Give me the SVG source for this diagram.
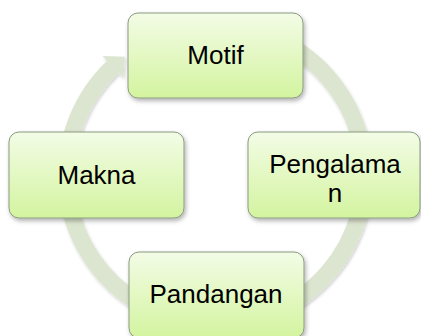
<svg xmlns="http://www.w3.org/2000/svg" width="421" height="336" viewBox="0 0 421 336">
<defs>
<linearGradient id="boxFill" x1="0" y1="0" x2="0" y2="1">
<stop offset="0" stop-color="#f3fce6"/>
<stop offset="1" stop-color="#d3f49f"/>
</linearGradient>
<filter id="sh" x="-20%" y="-20%" width="140%" height="140%">
<feDropShadow dx="1.5" dy="2.5" stdDeviation="2" flood-color="#000" flood-opacity="0.3"/>
</filter>
<filter id="shr" x="-20%" y="-20%" width="140%" height="140%">
<feDropShadow dx="1" dy="2" stdDeviation="1.5" flood-color="#000" flood-opacity="0.18"/>
</filter>
</defs>
<style>
.box{fill:url(#boxFill);stroke:#8a9a80;stroke-width:1;filter:url(#sh)}
.lbl{font-family:"Liberation Sans",Arial,sans-serif;font-size:26px;fill:#000;text-anchor:middle}
.ring{fill:none;stroke:#dce5cf;stroke-width:17}
.head{fill:#dce5cf}
</style>
<g id="connectors" filter="url(#shr)">
<path class="ring" d="M 215.5 26 A 149 149 0 1 1 112.9 66.9"/>
<polygon class="head" points="102.6,56.0 124.8,56.8 123.3,77.8"/>
</g>
<g id="node-motif">
<rect class="box" x="128" y="13" width="175" height="85" rx="10"/>
<text class="lbl" x="215.5" y="64">Motif</text>
</g>
<g id="node-pengalaman">
<rect class="box" x="248" y="132" width="172" height="86" rx="10"/>
<text class="lbl" x="335" y="173">Pengalama</text>
<text class="lbl" x="335" y="202">n</text>
</g>
<g id="node-pandangan">
<rect class="box" x="129" y="252" width="175" height="86" rx="10"/>
<text class="lbl" x="216" y="303">Pandangan</text>
</g>
<g id="node-makna">
<rect class="box" x="9" y="132" width="175" height="86" rx="10"/>
<text class="lbl" x="96.5" y="184">Makna</text>
</g>
</svg>
